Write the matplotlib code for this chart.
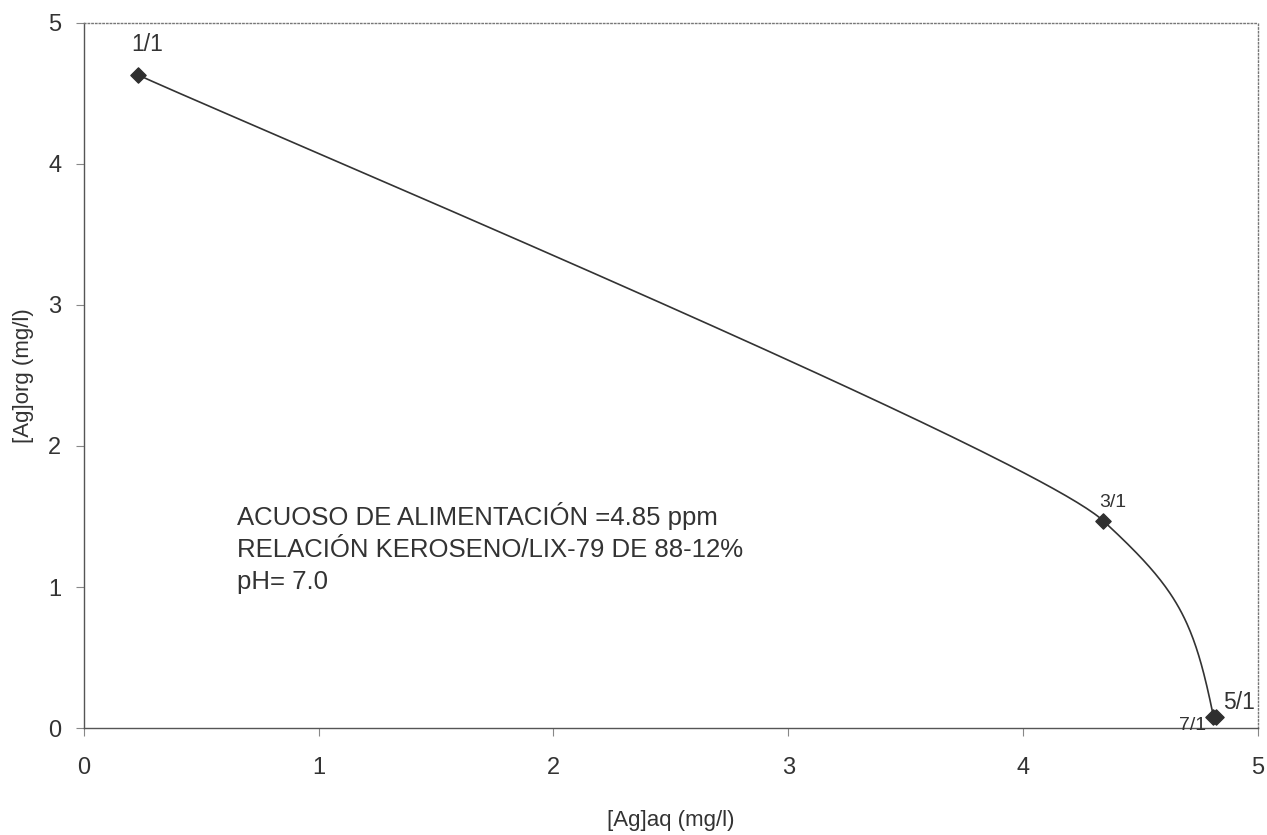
import numpy as np
import matplotlib
matplotlib.use("Agg")
import matplotlib.pyplot as plt

plt.rcParams['font.family'] = ['Liberation Sans', 'DejaVu Sans']

# isoterma de extraccion Ag
ag_aq = [0.23, 4.34, 4.81, 4.82]
ag_org = [4.63, 1.47, 0.08, 0.08]
ratios = ["1/1", "3/1", "7/1", "5/1"]


def unit(v):
    return v / np.linalg.norm(v)


def smooth_curve(ax, xs, ys, k=0.45, n=100):
    # curva suavizada en coordenadas de pantalla, como la de excel
    pts = ax.transData.transform(np.column_stack([xs, ys]))
    uniq = [pts[0]]
    for p in pts[1:]:
        if np.linalg.norm(p - uniq[-1]) > 5:
            uniq.append(p)
    pts = uniq
    m = len(pts)
    seglen = [np.linalg.norm(pts[i + 1] - pts[i]) for i in range(m - 1)]

    # tangentes: bisectriz en puntos interiores
    tang = [None] * m
    hand = [0.0] * m
    for i in range(1, m - 1):
        tang[i] = unit(unit(pts[i] - pts[i - 1]) + unit(pts[i + 1] - pts[i]))
        hand[i] = k * min(seglen[i - 1], seglen[i])
    tang[0] = unit(pts[1] - pts[0])
    hand[0] = hand[1] if m > 2 else k * seglen[0]
    # al final se refleja la tangente respecto a la cuerda
    ch = unit(pts[-1] - pts[-2])
    if m > 2:
        t_prev = tang[-2]
        tang[-1] = unit(2 * np.dot(t_prev, ch) * ch - t_prev)
        hand[-1] = hand[-2]
    else:
        tang[-1] = ch
        hand[-1] = k * seglen[0]

    out = []
    for i in range(m - 1):
        p1, p2 = pts[i], pts[i + 1]
        c1 = p1 + tang[i] * hand[i]
        c2 = p2 - tang[i + 1] * hand[i + 1]
        t = np.linspace(0, 1, n)[:, None]
        seg = ((1 - t) ** 3 * p1 + 3 * (1 - t) ** 2 * t * c1
               + 3 * (1 - t) * t ** 2 * c2 + t ** 3 * p2)
        out.append(seg)
    out = ax.transData.inverted().transform(np.vstack(out))
    return out[:, 0], out[:, 1]


fig, ax = plt.subplots(figsize=(12.67, 8.35), dpi=100)
fig.subplots_adjust(left=0.066, right=0.993, top=0.973, bottom=0.128)
ax.set_xlim(0, 5)
ax.set_ylim(0, 5)

cx, cy = smooth_curve(ax, ag_aq, ag_org)
ax.plot(cx, cy, color="#333333", lw=1.2)
ax.scatter(ag_aq, ag_org, marker="D", s=60, color="#2f2f2f", zorder=3)

# etiquetas de cada relacion
ax.text(ag_aq[0] + 0.04, ag_org[0] + 0.13, ratios[0], fontsize=16.5, color="#333333", ha="center", va="bottom")
ax.text(ag_aq[1] + 0.04, ag_org[1] + 0.07, ratios[1], fontsize=14, color="#333333", ha="center", va="bottom")
ax.text(ag_aq[2] - 0.03, ag_org[2] - 0.12, ratios[2], fontsize=14, color="#333333", ha="right", va="bottom")
ax.text(ag_aq[3] + 0.03, ag_org[3] + 0.02, ratios[3], fontsize=16.5, color="#333333", ha="left", va="bottom")

ax.text(0.655, 1.60, "ACUOSO DE ALIMENTACIÓN =4.85 ppm\nRELACIÓN KEROSENO/LIX-79 DE 88-12%\npH= 7.0",
        fontsize=18.5, color="#333333", ha="left", va="top", linespacing=1.42)

ax.set_xticks(range(6))
ax.set_yticks(range(6))
ax.tick_params(direction="out", length=6, width=0.8, colors="#888888", labelcolor="#333333",
               labelsize=17)
ax.tick_params(axis="x", pad=15)
ax.tick_params(axis="y", pad=10)
ax.set_xlabel("[Ag]aq (mg/l)", fontsize=16, color="#333333", labelpad=22)
ax.set_ylabel("[Ag]org (mg/l)", fontsize=16, color="#333333", labelpad=10)

for side in ["left", "bottom"]:
    ax.spines[side].set_color("#555555")
    ax.spines[side].set_linewidth(1.0)
for side in ["top", "right"]:
    ax.spines[side].set_color("#777777")
    ax.spines[side].set_linestyle(":")
    ax.spines[side].set_linewidth(1.0)

fig.savefig("out.png", dpi=100)
